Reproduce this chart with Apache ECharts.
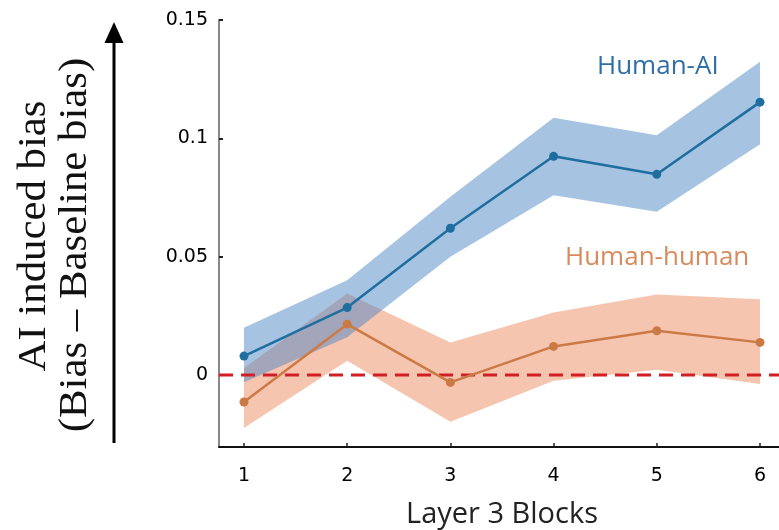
<!DOCTYPE html>
<html>
<head>
<meta charset="utf-8">
<script src="https://cdn.jsdelivr.net/npm/echarts@6/dist/echarts.min.js"></script>
<style>html,body{margin:0;padding:0;background:#fff;}#c{width:779px;height:530px;}</style>
</head>
<body>
<div id="c"></div>
<script>
const blocks = [1, 2, 3, 4, 5, 6];
const humanAIMean  = [0.008, 0.0285, 0.062, 0.0924, 0.0848, 0.1153];
const humanAIUpper = [0.020, 0.040, 0.0753, 0.1087, 0.1013, 0.1324];
const humanAILower = [-0.003, 0.016, 0.050, 0.076, 0.069, 0.0975];
const humanHumanMean  = [-0.0114, 0.0215, -0.0031, 0.0121, 0.0187, 0.0138];
const humanHumanUpper = [0.003, 0.0345, 0.0138, 0.0264, 0.034, 0.032];
const humanHumanLower = [-0.0224, 0.006, -0.0197, -0.0024, 0.0022, -0.0038];
const yTicks = [0, 0.05, 0.1, 0.15];
const xTicks = [1, 2, 3, 4, 5, 6];
const xMin = 0.758, xMax = 6.184, yMin = -0.0304, yMax = 0.15;

function band(upper, lower, fill) {
  return {
    type: 'custom', silent: true,
    data: [[blocks[0], upper[0]]],
    encode: {x: 0, y: 1},
    renderItem: function (params, api) {
      const pts = [];
      for (let i = 0; i < blocks.length; i++) pts.push(api.coord([blocks[i], upper[i]]));
      for (let i = blocks.length - 1; i >= 0; i--) pts.push(api.coord([blocks[i], lower[i]]));
      return {type: 'polygon', shape: {points: pts}, style: {fill: fill}};
    }
  };
}
function pairs(ys) { return blocks.map((x, i) => [x, ys[i]]); }

const chart = echarts.init(document.getElementById('c'), null, {renderer: 'canvas'});
chart.setOption({
  animation: false,
  backgroundColor: '#fff',
  grid: {left: 219, right: 0, top: 20, bottom: 83},
  xAxis: {
    type: 'value', min: xMin, max: xMax,
    axisLine: {show: true, onZero: false, lineStyle: {color: '#111', width: 2}},
    axisTick: {show: true, inside: true, length: 4, lineStyle: {color: '#222', width: 1.5}, customValues: xTicks},
    axisLabel: {customValues: xTicks, fontFamily: 'DejaVu Sans', fontSize: 19, color: '#000', margin: 20},
    splitLine: {show: false}
  },
  yAxis: {
    type: 'value', min: yMin, max: yMax,
    axisLine: {show: true, onZero: false, lineStyle: {color: '#888', width: 2}},
    axisTick: {show: true, inside: true, length: 4, lineStyle: {color: '#222', width: 2}, customValues: yTicks},
    axisLabel: {customValues: yTicks, fontFamily: 'DejaVu Sans', fontSize: 19, color: '#000', margin: 11},
    splitLine: {show: false}
  },
  series: [
    band(humanHumanUpper, humanHumanLower, 'rgba(237,140,95,0.5)'),
    band(humanAIUpper, humanAILower, 'rgba(80,136,197,0.5)'),
    {
      type: 'line', silent: true, symbol: 'none',
      data: [[xMin, 0], [xMax, 0]],
      lineStyle: {color: '#d21f26', width: 3, type: [14, 8]}
    },
    {
      type: 'line', name: 'Human-human', data: pairs(humanHumanMean),
      symbol: 'circle', symbolSize: 9, showSymbol: true,
      itemStyle: {color: '#cc7a45'}, lineStyle: {color: '#cc7a45', width: 2.5}
    },
    {
      type: 'line', name: 'Human-AI', data: pairs(humanAIMean),
      symbol: 'circle', symbolSize: 9, showSymbol: true,
      itemStyle: {color: '#1e6ea0'}, lineStyle: {color: '#1e6ea0', width: 2.5}
    }
  ],
  graphic: [
    {type: 'text', x: 597, y: 67, style: {text: 'Human-AI', fontFamily: 'Open Sans', fontSize: 26, fill: '#2d6fa6', align: 'left', verticalAlign: 'middle'}},
    {type: 'text', x: 565, y: 258, style: {text: 'Human-human', fontFamily: 'Open Sans', fontSize: 26, fill: '#d98a5c', align: 'left', verticalAlign: 'middle'}},
    {type: 'text', x: 502, y: 515, style: {text: 'Layer 3 Blocks', fontFamily: 'Open Sans', fontSize: 29, fill: '#222', align: 'center', verticalAlign: 'middle'}},
    {type: 'text', x: 34, y: 236, rotation: Math.PI / 2, scaleX: 1.07, style: {text: 'AI induced bias', fontFamily: 'Liberation Serif', fontSize: 40, fill: '#111', align: 'center', verticalAlign: 'middle'}},
    {type: 'text', x: 75, y: 245, rotation: Math.PI / 2, scaleX: 1.07, style: {text: '(Bias \u2013 Baseline bias)', fontFamily: 'Liberation Serif', fontSize: 40, fill: '#111', align: 'center', verticalAlign: 'middle'}},
    {type: 'line', shape: {x1: 114, y1: 443, x2: 114, y2: 40}, style: {stroke: '#000', lineWidth: 3}},
    {type: 'polygon', shape: {points: [[114, 22], [104.5, 43], [123.5, 43]]}, style: {fill: '#000'}}
  ]
});
</script>
</body>
</html>
